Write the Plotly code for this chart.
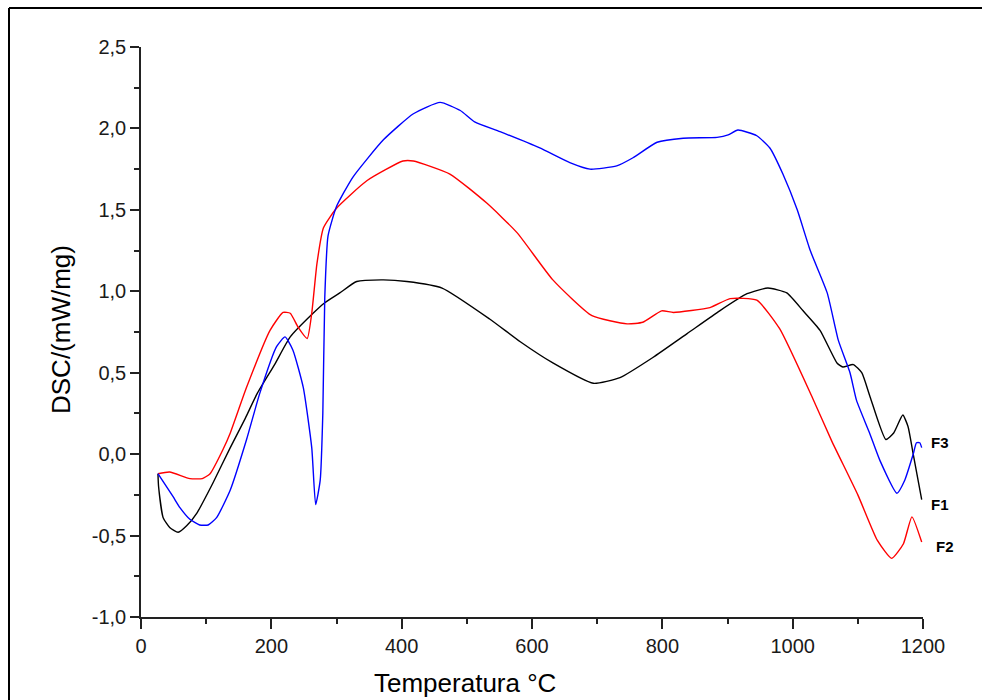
import plotly.graph_objects as go

# ---- data ----
f1_x = [26, 27, 34, 44, 57, 70, 86, 110, 137, 160, 178, 205, 229, 264, 282, 305, 331, 372, 408, 462,
        535, 582, 632, 694, 735, 786, 838, 888, 930, 962, 991, 1016, 1042, 1068, 1077, 1093, 1106,
        1119, 1143, 1155, 1169, 1177, 1185, 1198]
f1_y = [-0.12, -0.20, -0.39, -0.45, -0.48, -0.44, -0.36, -0.18, 0.04, 0.22, 0.37, 0.55, 0.72, 0.865,
        0.93, 0.99, 1.06, 1.07, 1.06, 1.02, 0.83, 0.69, 0.56, 0.435, 0.47, 0.595, 0.74, 0.88, 0.985,
        1.02, 0.99, 0.88, 0.76, 0.56, 0.535, 0.55, 0.50, 0.35, 0.09, 0.13, 0.24, 0.17, 0.0, -0.28]

f2_x = [26, 44, 75, 94, 106, 126, 137, 162, 198, 218, 229, 241, 255, 262, 270, 280, 300, 347, 402,
        418, 474, 531, 577, 632, 692, 746, 770, 799, 817, 873, 904, 945, 980, 1031, 1060, 1100, 1130,
        1152, 1170, 1183, 1198]
f2_y = [-0.12, -0.11, -0.15, -0.15, -0.12, 0.03, 0.13, 0.41, 0.76, 0.87, 0.865, 0.78, 0.71, 0.865,
        1.17, 1.39, 1.51, 1.68, 1.80, 1.80, 1.72, 1.54, 1.36, 1.07, 0.85, 0.80, 0.81, 0.88, 0.87, 0.90,
        0.955, 0.945, 0.77, 0.34, 0.08, -0.25, -0.53, -0.64, -0.55, -0.385, -0.54]

f3_x = [26, 49, 60, 75, 90, 103, 116, 137, 162, 182, 208, 221, 233, 249, 262, 268, 275, 279, 282,
        287, 300, 325, 372, 418, 459, 490, 512, 551, 612, 658, 689, 730, 755, 792, 832, 884, 901, 916,
        945, 965, 985, 1007, 1027, 1053, 1070, 1088, 1098, 1118, 1134, 1160, 1172, 1185, 1190, 1195, 1198]
f3_y = [-0.12, -0.26, -0.33, -0.40, -0.435, -0.435, -0.39, -0.22, 0.09, 0.37, 0.66, 0.72, 0.64, 0.41,
        0.04, -0.31, -0.16, 0.25, 0.96, 1.34, 1.52, 1.70, 1.93, 2.09, 2.16, 2.11, 2.04, 1.98, 1.88,
        1.79, 1.75, 1.77, 1.82, 1.915, 1.94, 1.945, 1.96, 1.99, 1.955, 1.88, 1.72, 1.50, 1.25, 0.99,
        0.70, 0.50, 0.33, 0.13, -0.04, -0.24, -0.16, 0.0, 0.07, 0.07, 0.04]

labels = ["F1", "F2", "F3"]
label_x = [1226, 1233, 1226]        # data units (°C), right of the plot end
label_y = [-0.31, -0.565, 0.07]     # data units

x_ticks = [0, 200, 400, 600, 800, 1000, 1200]
y_ticks = [-1.0, -0.5, 0.0, 0.5, 1.0, 1.5, 2.0, 2.5]
y_ticktext = ["-1,0", "-0,5", "0,0", "0,5", "1,0", "1,5", "2,0", "2,5"]

X_RANGE = [0, 1200]
Y_RANGE = [-1, 2.5]

FONT = "Liberation Sans, Arial, sans-serif"

fig = go.Figure()
for xs, ys, col in [(f1_x, f1_y, "#000000"), (f2_x, f2_y, "#ff0000"), (f3_x, f3_y, "#0000ff")]:
    fig.add_trace(go.Scatter(x=xs, y=ys, mode="lines",
                             line=dict(color=col, width=1.4, shape="spline", smoothing=0.5),
                             showlegend=False, hoverinfo="skip"))

# series labels: convert data position to paper fraction so they show outside the plot area
for t, lx, ly in zip(labels, label_x, label_y):
    px = (lx - X_RANGE[0]) / (X_RANGE[1] - X_RANGE[0])
    py = (ly - Y_RANGE[0]) / (Y_RANGE[1] - Y_RANGE[0])
    fig.add_annotation(x=px, y=py, xref="paper", yref="paper", text="<b>%s</b>" % t, showarrow=False,
                       font=dict(family=FONT, size=15, color="#000"), xanchor="center", yanchor="middle")

# axis titles
fig.add_annotation(x=(465 - 141) / 782, y=(617 - 683) / 570, xref="paper", yref="paper",
                   text="Temperatura °C", showarrow=False, xanchor="center", yanchor="middle",
                   font=dict(family=FONT, size=26, color="#000"))
fig.add_annotation(x=(61 - 141) / 782, y=(617 - 330) / 570, xref="paper", yref="paper",
                   text="DSC/(mW/mg)", showarrow=False, xanchor="center", yanchor="middle",
                   textangle=-90, font=dict(family=FONT, size=26, color="#000"))

# page frame (left and top border lines)
lx0 = (9 - 141) / 782
ty0 = (617 - 8) / 570
fig.add_shape(type="line", xref="paper", yref="paper", x0=lx0, x1=lx0, y0=ty0, y1=-0.2,
              line=dict(color="#000", width=2))
fig.add_shape(type="line", xref="paper", yref="paper", x0=lx0, x1=(982 - 141) / 782, y0=ty0, y1=ty0,
              line=dict(color="#000", width=2))

fig.update_xaxes(range=X_RANGE, tickvals=x_ticks, ticktext=[str(v) for v in x_ticks],
                 ticks="outside", ticklen=10, tickwidth=1.5, tickcolor="#222",
                 showline=True, linecolor="#222", linewidth=1.5, showgrid=False, zeroline=False,
                 tickfont=dict(family=FONT, size=20, color="#1a1a1a"),
                 minor=dict(dtick=100, tick0=0, ticks="outside", ticklen=5, tickwidth=1.5, tickcolor="#222"))
fig.update_yaxes(range=Y_RANGE, tickvals=y_ticks, ticktext=y_ticktext,
                 ticks="outside", ticklen=9, tickwidth=1.5, tickcolor="#222",
                 showline=True, linecolor="#222", linewidth=1.5, showgrid=False, zeroline=False,
                 tickfont=dict(family=FONT, size=20, color="#1a1a1a"),
                 minor=dict(dtick=0.25, tick0=0, ticks="outside", ticklen=5, tickwidth=1.5, tickcolor="#222"))

fig.update_layout(width=982, height=700, margin=dict(l=141, r=59, t=47, b=83),
                  plot_bgcolor="white", paper_bgcolor="white", showlegend=False)

fig.write_html("out.html")
